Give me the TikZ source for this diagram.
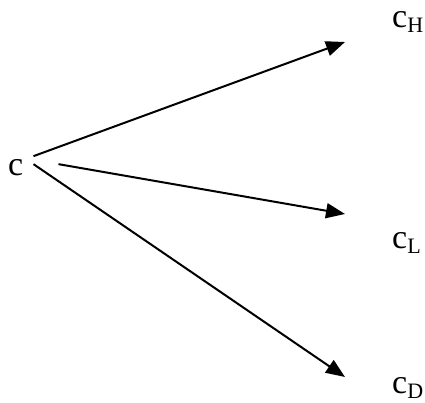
\documentclass[tikz,border=0pt]{standalone}
\usepackage{fontspec}
\setmainfont{Liberation Serif}
\usetikzlibrary{arrows.meta}
\tikzset{
  val/.style={inner sep=0pt,anchor=base west,font=\fontsize{34}{34}\selectfont},
  branch/.style={-{Triangle[length=19pt,width=15pt]},line width=2pt}
}
\newcommand{\sub}[1]{\raisebox{-5pt}{\fontsize{22}{22}\selectfont #1}}
\begin{document}
\begin{tikzpicture}[x=1pt,y=-1pt]
\useasboundingbox (0,0) rectangle (425,403);
% the starting value and its three outcomes
\node[val] (c) at (8,176) {c};
\node[val] (cH) at (392,28) {c\sub{H}};
\node[val] (cL) at (392,248) {c\sub{L}};
\node[val] (cD) at (392,393) {c\sub{D}};
% where the arrows end
\coordinate (tH) at (345,42);
\coordinate (tL) at (345,214);
\coordinate (tD) at (345,377);
% the branches
\draw[branch] ([xshift=10pt,yshift=12pt]c.east) -- (tH);
\draw[branch] ([xshift=35pt,yshift=4pt]c.east) -- (tL);
\draw[branch] ([xshift=10pt,yshift=4pt]c.east) -- (tD);
\end{tikzpicture}
\end{document}
